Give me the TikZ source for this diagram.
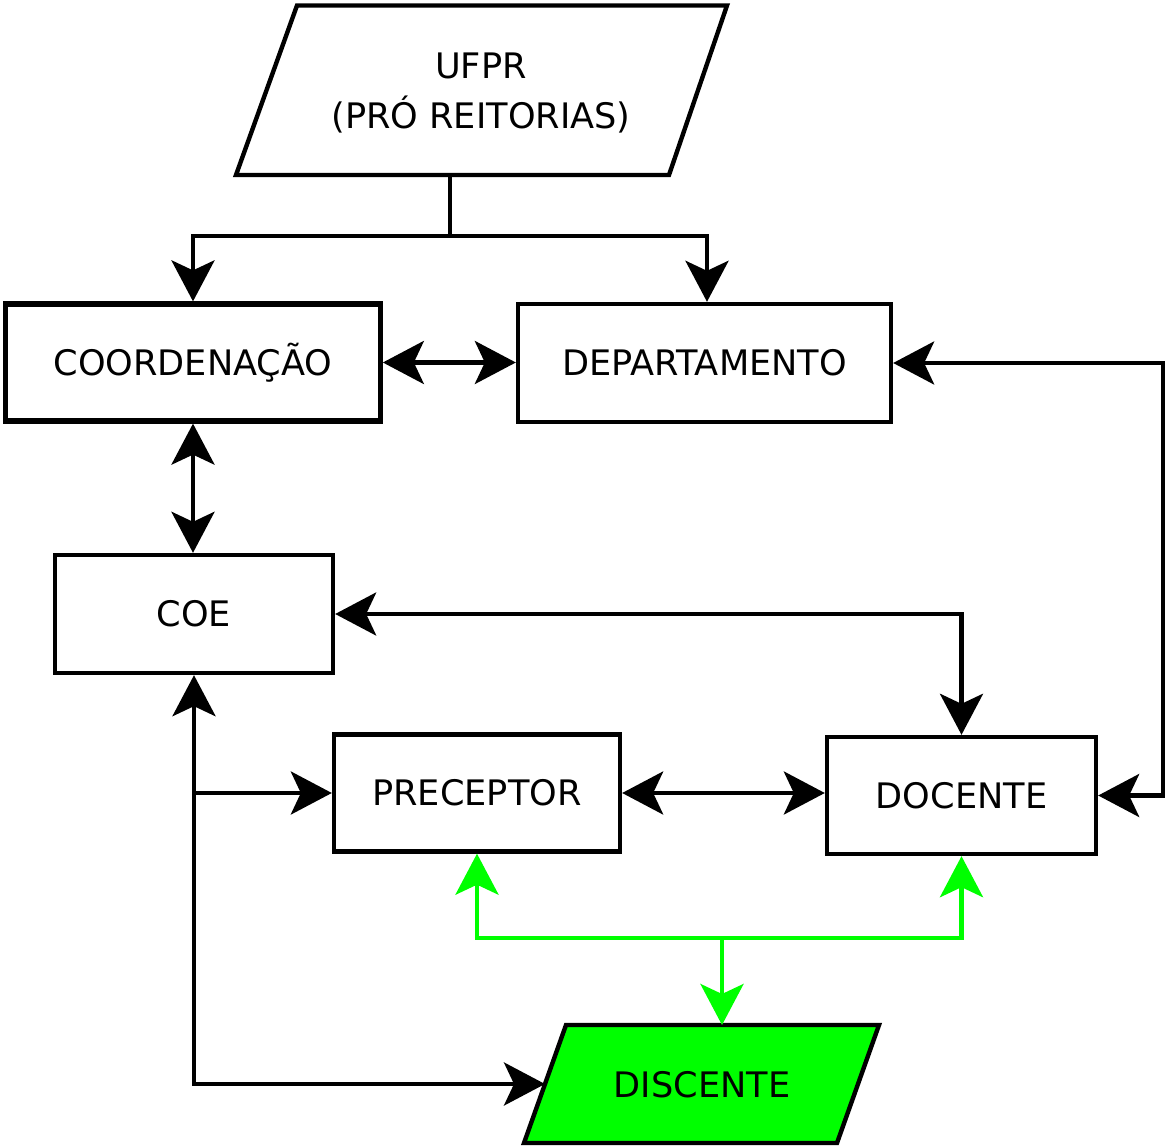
\documentclass[tikz,border=0pt]{standalone}
\usepackage{fontspec}
\setmainfont{DejaVu Sans}
\usetikzlibrary{arrows.meta}
\definecolor{brightgreen}{HTML}{00FF00}
\tikzset{
  mytip/.tip={Stealth[length=0.82cm,width=0.86cm,inset=0.2cm]},
  txt/.style={inner sep=0pt, align=center, font=\fontsize{20}{28}\selectfont},
  boxnode/.style={txt, draw=black, line width=2.5pt, rectangle, fill=white},
  parashape/.style={draw=black, line width=2.5pt, line join=miter},
  conn/.style={line width=2.5pt, draw=black},
  gconn/.style={line width=2.5pt, draw=brightgreen},
}
\begin{document}
\begin{tikzpicture}[x=0.02cm,y=-0.02cm]
\useasboundingbox (0,0) rectangle (1166,1148);

% parallelograms
\draw[parashape, fill=white] (297,5.5) coordinate (u1) -- (727,5.5) coordinate (u2)
  -- (669,175) coordinate (u3) -- (236,175) coordinate (u4) -- cycle;
\node[txt] (ufpr) at (481,93) {UFPR\\(PRÓ REITORIAS)};
\coordinate (ufprS) at (450,175);

\draw[parashape, fill=brightgreen] (566,1025) coordinate (d1) -- (879,1025) coordinate (d2)
  -- (837,1143) coordinate (d3) -- (524,1143) coordinate (d4) -- cycle;
\node[txt] (disc) at (702,1085) {DISCENTE};
\coordinate (discN) at (722,1025);
\coordinate (discW) at (545,1084);

% boxes
\node[boxnode, line width=3pt, minimum width=7.49cm, minimum height=2.34cm] (coord) at (193,362.5) {COORDENAÇÃO};
\node[boxnode, minimum width=7.46cm, minimum height=2.36cm] (dep) at (704.5,363) {DEPARTAMENTO};
\node[boxnode, minimum width=5.56cm, minimum height=2.36cm] (coe) at (194,614) {COE};
\node[boxnode, minimum width=5.72cm, minimum height=2.34cm] (prec) at (477,793) {PRECEPTOR};
\node[boxnode, minimum width=5.38cm, minimum height=2.34cm] (doc) at (961.5,795.5) {DOCENTE};

\coordinate (j1) at (450,236);
\coordinate (depN) at (707,0);
\coordinate (rt) at (1163,0);
\coordinate (gy) at (0,938);

% UFPR to coordination and department
\draw[conn] (ufprS) -- (j1);
\draw[conn, -mytip] (j1) -| (coord);
\draw[conn, -mytip] (j1) -| (depN |- dep.north);

% coordination <-> department
\draw[conn, mytip-mytip] (coord.east) -- (coord.east -| dep.west);
% coordination <-> COE
\draw[conn, mytip-mytip] (coord.south) -- (coord.south |- coe.north);
% COE <-> docente
\draw[conn, mytip-mytip] (coe.east) -| (doc.north);
% department <-> docente
\draw[conn, mytip-mytip] (dep.east) -- (dep.east -| rt) |- (doc.east);
% COE <-> discente
\draw[conn, mytip-mytip] (coe.south) |- (discW);
% branch to preceptor
\draw[conn, -mytip] (coe.south |- prec.west) -- (prec.west);
% preceptor <-> docente
\draw[conn, mytip-mytip] (prec.east) -- (prec.east -| doc.west);

% green links
\draw[gconn, mytip-mytip] (prec.south) -- (prec.south |- gy) -| (doc.south);
\draw[gconn, -mytip] (discN |- gy) -- (discN);
\end{tikzpicture}
\end{document}
